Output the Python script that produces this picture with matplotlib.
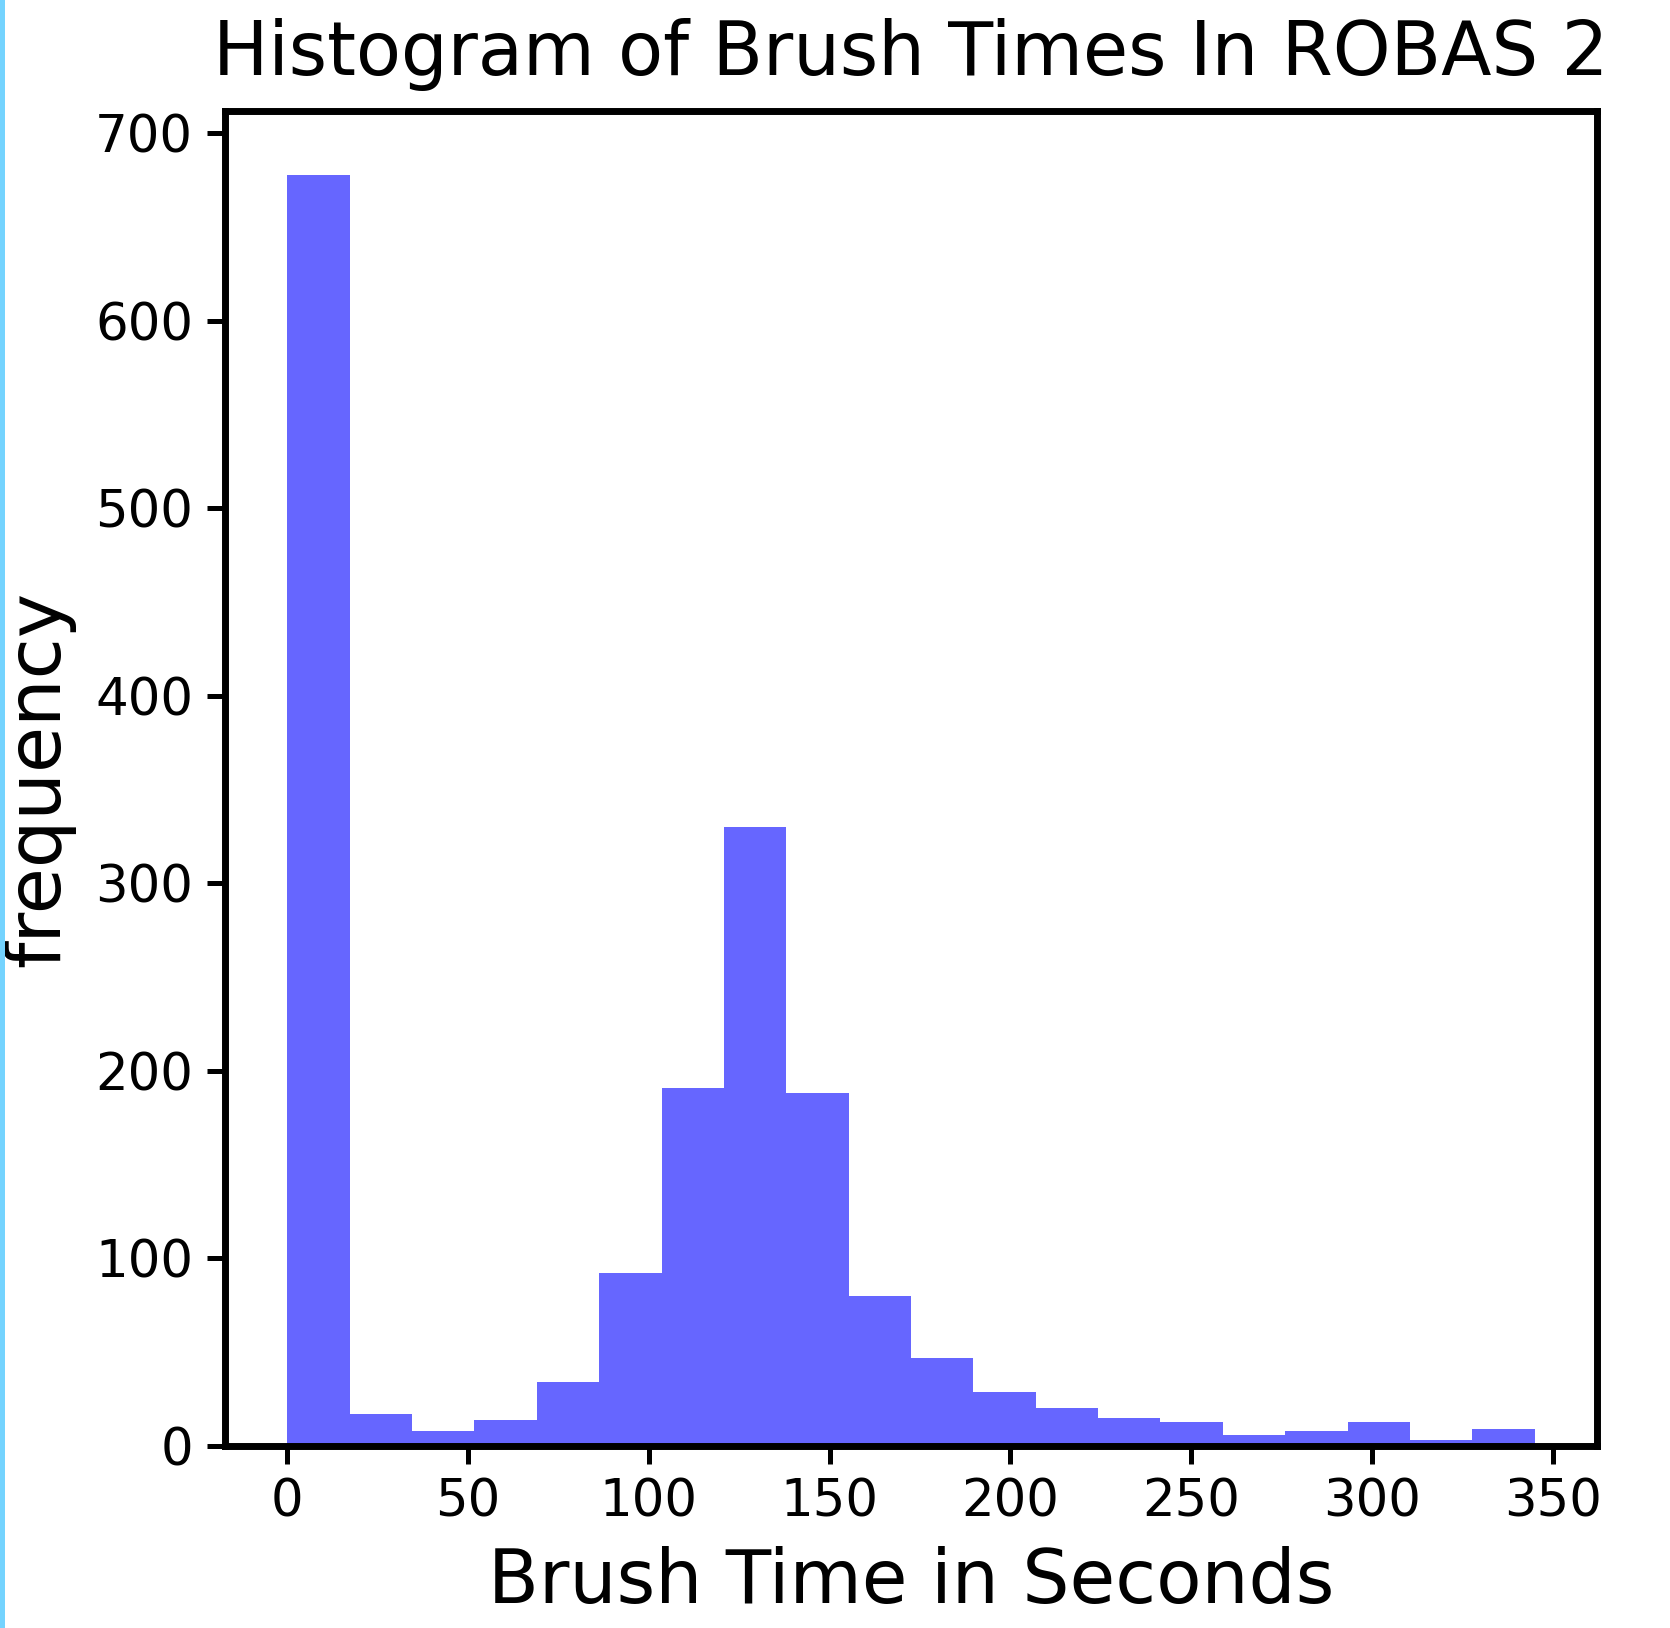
import numpy as np
import matplotlib
matplotlib.use("Agg")
import matplotlib.pyplot as plt
from matplotlib.patches import Rectangle

# Histogram counts per bin (20 equal bins spanning 0-345 s)
bin_edges = np.linspace(0, 345, 21)
counts = [678, 17, 8, 14, 34, 92, 191, 330, 188, 80,
          47, 29, 20, 15, 13, 6, 8, 13, 3, 9]

x_ticks = [0, 50, 100, 150, 200, 250, 300, 350]
y_ticks = [0, 100, 200, 300, 400, 500, 600, 700]

plt.rcParams['font.family'] = ['DejaVu Sans']

fig = plt.figure(figsize=(16.70, 16.28), dpi=100)
ax = fig.add_axes([0.1347, 0.1118, 0.8216, 0.8200])

centers = (bin_edges[:-1] + bin_edges[1:]) / 2
ax.hist(centers, bins=bin_edges, weights=counts, color='blue', alpha=0.6)

ax.set_xticks(x_ticks)
ax.set_yticks(y_ticks)
ax.tick_params(axis='both', labelsize=37, length=13, width=3.6, pad=10)
for s in ax.spines.values():
    s.set_linewidth(5)

ax.set_title("Histogram of Brush Times In ROBAS 2", fontsize=53, pad=26)
ax.set_xlabel("Brush Time in Seconds", fontsize=53.5, labelpad=13)
ax.set_ylabel("frequency", fontsize=54, labelpad=14)

# thin light-blue strip along the left edge of the figure
fig.patches.append(Rectangle((0, 0), 5 / 1670, 1, transform=fig.transFigure,
                             facecolor='#74D3FE', edgecolor='none', zorder=0))

fig.savefig("out.png", dpi=100)
